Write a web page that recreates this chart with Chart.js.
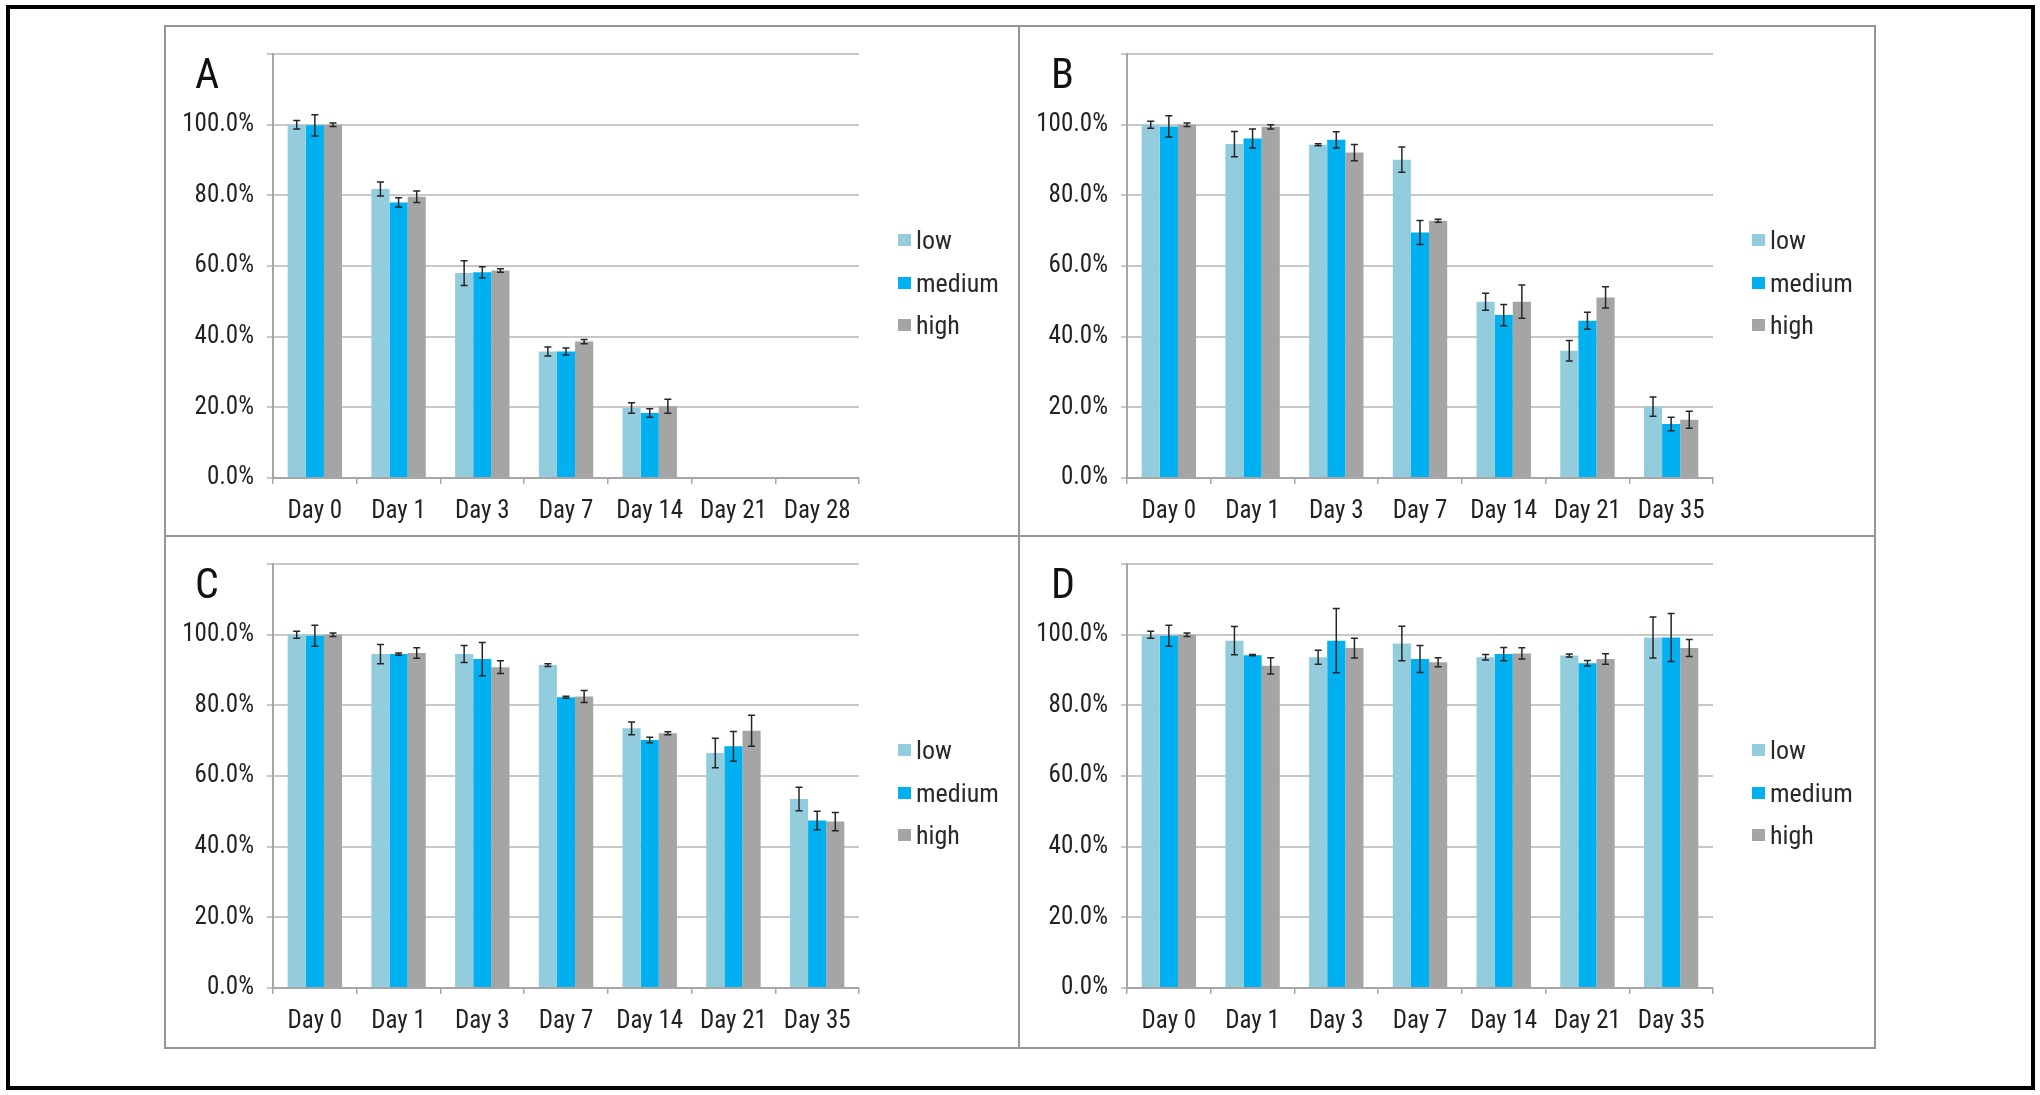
<!DOCTYPE html>
<html>
<head>
<meta charset="utf-8">
<script src="https://cdn.jsdelivr.net/npm/chart.js@4.4.1/dist/chart.umd.min.js"></script>
<style>
  html, body { margin: 0; padding: 0; background: #fff; }
  body { width: 2040px; height: 1095px; position: relative; overflow: hidden;
         font-family: 'Roboto Condensed', 'Open Sans', sans-serif; color: #222; }
  .outer { position: absolute; left: 6px; top: 5px; width: 2029px; height: 1085px; border: 4px solid #000; box-sizing: border-box; }
  .frame { position: absolute; left: 164px; top: 25px; width: 1712px; height: 1024px; border: 2px solid #959595; box-sizing: border-box; }
  .vline { position: absolute; left: 1018px; top: 25px; width: 2px; height: 1024px; background: #959595; }
  .hline { position: absolute; left: 164px; top: 535px; width: 1712px; height: 2px; background: #959595; }
  .panel { position: absolute; width: 854px; height: 510px; }
  .panel canvas { position: absolute; left: 0; top: 0; }
  .tag { position: absolute; left: 30px; top: 27px; font-size: 42px; line-height: 42px; color: #111; }
  .legend { position: absolute; left: 733px; top: 193px; }
  .legend .item { display: flex; align-items: center; height: 42.5px; font-size: 26px; color: #2a2a2a; }
  .legend .box { display: inline-block; width: 13px; height: 12px; margin-right: 5px; }
</style>
</head>
<body>
<div class="outer"></div>
<div class="frame"></div>
<div class="vline"></div>
<div class="hline"></div>

<div class="panel" style="left:165px; top:26px;"><canvas id="chartA" width="854" height="510"></canvas><div class="tag">A</div><div class="legend" id="legendA"></div></div>
<div class="panel" style="left:1019px; top:26px;"><canvas id="chartB" width="854" height="510"></canvas><div class="tag" style="left:32px">B</div><div class="legend" id="legendB"></div></div>
<div class="panel" style="left:165px; top:536px;"><canvas id="chartC" width="854" height="510"></canvas><div class="tag">C</div><div class="legend" id="legendC"></div></div>
<div class="panel" style="left:1019px; top:536px;"><canvas id="chartD" width="854" height="510"></canvas><div class="tag" style="left:32px">D</div><div class="legend" id="legendD"></div></div>

<script>
const seriesNames = ['low', 'medium', 'high'];
const seriesColors = ['#93cddd', '#00b0f0', '#a5a5a5'];

const daysA = ['Day 0', 'Day 1', 'Day 3', 'Day 7', 'Day 14', 'Day 21', 'Day 28'];
const days = ['Day 0', 'Day 1', 'Day 3', 'Day 7', 'Day 14', 'Day 21', 'Day 35'];
const yTicks = [0, 20, 40, 60, 80, 100, 120];

// panel A
const aLow = [100, 81.8, 58.0, 35.8, 19.8, null, null];
const aMed = [99.8, 78.0, 58.2, 35.8, 18.4, null, null];
const aHigh = [100, 79.6, 58.7, 38.6, 20.3, null, null];
const aLowErr = [1.2, 2.0, 3.5, 1.3, 1.5, null, null];
const aMedErr = [3.0, 1.3, 1.6, 1.0, 1.2, null, null];
const aHighErr = [0.5, 1.6, 0.5, 0.6, 2.0, null, null];

// panel B
const bLow = [100, 94.5, 94.3, 90.1, 49.9, 36.0, 20.2];
const bMed = [99.5, 96.1, 95.7, 69.5, 46.1, 44.5, 15.3];
const bHigh = [100, 99.4, 92.1, 72.8, 49.9, 51.1, 16.5];
const bLowErr = [1.0, 3.6, 0.3, 3.6, 2.4, 2.9, 2.7];
const bMedErr = [3.0, 2.7, 2.3, 3.4, 3.0, 2.4, 1.9];
const bHighErr = [0.5, 0.6, 2.3, 0.4, 4.7, 3.0, 2.4];

// panel C
const cLow = [100, 94.5, 94.5, 91.4, 73.5, 66.5, 53.5];
const cMed = [99.7, 94.5, 93.1, 82.3, 70.2, 68.4, 47.4];
const cHigh = [100, 94.8, 90.8, 82.5, 72.1, 72.8, 47.1];
const cLowErr = [1.0, 2.7, 2.4, 0.4, 1.8, 4.2, 3.3];
const cMedErr = [3.0, 0.3, 4.7, 0.3, 0.8, 4.2, 2.6];
const cHighErr = [0.5, 1.5, 1.8, 1.7, 0.4, 4.4, 2.6];

// panel D
const dLow = [100, 98.3, 93.6, 97.5, 93.6, 94.1, 99.2];
const dMed = [99.7, 94.2, 98.3, 93.1, 94.5, 91.9, 99.2];
const dHigh = [100, 91.2, 96.2, 92.2, 94.7, 93.1, 96.2];
const dLowErr = [1.0, 4.0, 2.0, 4.9, 0.8, 0.4, 5.8];
const dMedErr = [3.0, 0.2, 9.1, 3.8, 1.9, 0.8, 6.8];
const dHighErr = [0.5, 2.3, 2.8, 1.3, 1.6, 1.5, 2.4];

const tickFont = { family: "'Roboto Condensed', 'Open Sans', sans-serif", size: 25 };

const errorBars = {
    id: 'errorBars',
    afterDatasetsDraw(chart) {
        const ctx = chart.ctx;
        const y = chart.scales.y;
        ctx.save();
        ctx.strokeStyle = '#262626';
        ctx.lineWidth = 1.5;
        chart.data.datasets.forEach((ds, i) => {
            chart.getDatasetMeta(i).data.forEach((bar, j) => {
                const v = ds.data[j];
                const e = ds.errors[j];
                if (v == null || e == null) return;
                const top = y.getPixelForValue(v + e);
                const bot = y.getPixelForValue(v - e);
                ctx.beginPath();
                ctx.moveTo(bar.x, top);
                ctx.lineTo(bar.x, bot);
                ctx.moveTo(bar.x - 3.5, top);
                ctx.lineTo(bar.x + 3.5, top);
                ctx.moveTo(bar.x - 3.5, bot);
                ctx.lineTo(bar.x + 3.5, bot);
                ctx.stroke();
            });
        });
        ctx.restore();
    }
};

function createChart(id, labels, values, errors) {
    const ctx = document.getElementById(id).getContext('2d');
    new Chart(ctx, {
        type: 'bar',
        data: {
            labels: labels,
            datasets: seriesNames.map((name, i) => ({
                label: name,
                data: values[i],
                errors: errors[i],
                backgroundColor: seriesColors[i],
                borderWidth: 0,
                categoryPercentage: 0.65,
                barPercentage: 1
            }))
        },
        options: {
            responsive: false,
            animation: false,
            devicePixelRatio: 1,
            layout: {
                padding: { top: 27, right: 160, left: 0, bottom: 0 }
            },
            scales: {
                x: {
                    afterFit: (s) => { s.height = 58; },
                    ticks: { color: '#222', font: tickFont, padding: 13, maxRotation: 0, autoSkip: false },
                    grid: { drawOnChartArea: false, drawTicks: true, tickLength: 6, color: '#a6a6a6', lineWidth: 1.5 },
                    border: { display: true, color: '#a6a6a6', width: 2 }
                },
                y: {
                    min: 0,
                    max: 120,
                    afterFit: (s) => { s.width = 108; },
                    afterBuildTicks: (s) => { s.ticks = yTicks.map((v) => ({ value: v })); },
                    ticks: {
                        color: '#222',
                        font: tickFont,
                        padding: 13,
                        callback: (v) => v === 120 ? '' : v.toFixed(1) + '%'
                    },
                    grid: { color: '#c8c8c8', lineWidth: 2, tickLength: 6 },
                    border: { display: true, color: '#a6a6a6', width: 2 }
                }
            },
            plugins: {
                legend: { display: false },
                tooltip: { enabled: false }
            }
        },
        plugins: [errorBars]
    });
}

function renderLegend(id) {
    const container = document.getElementById(id);
    container.innerHTML = seriesNames.map((name, i) => `
        <div class="item"><span class="box" style="background:${seriesColors[i]}"></span>${name}</div>
    `).join('');
}

createChart('chartA', daysA, [aLow, aMed, aHigh], [aLowErr, aMedErr, aHighErr]);
createChart('chartB', days, [bLow, bMed, bHigh], [bLowErr, bMedErr, bHighErr]);
createChart('chartC', days, [cLow, cMed, cHigh], [cLowErr, cMedErr, cHighErr]);
createChart('chartD', days, [dLow, dMed, dHigh], [dLowErr, dMedErr, dHighErr]);

['legendA', 'legendB', 'legendC', 'legendD'].forEach(renderLegend);
</script>
</body>
</html>
